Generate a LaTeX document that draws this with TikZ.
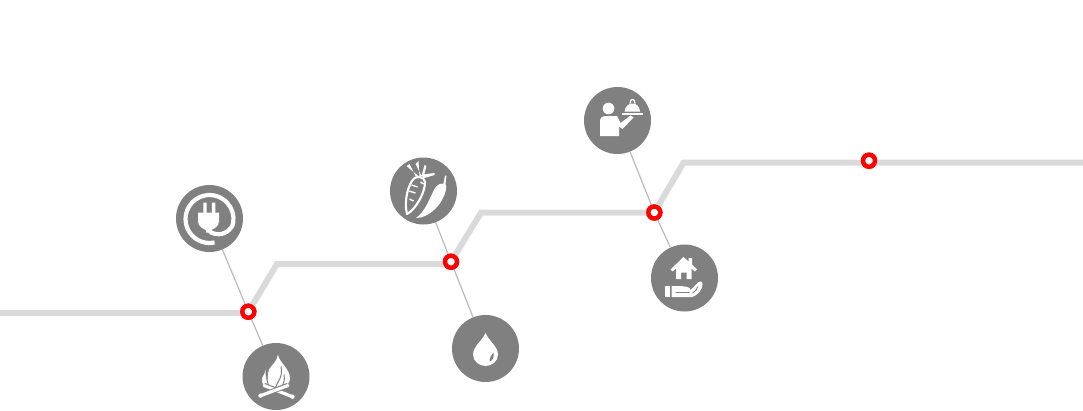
\documentclass[tikz,border=0pt]{standalone}
\usepackage{xcolor}
\usetikzlibrary{positioning,calc}
\definecolor{icongray}{HTML}{808080}
\definecolor{trackgray}{HTML}{DADADA}
\definecolor{linkgray}{HTML}{BBBBBB}
\tikzset{
    plugicon/.pic={
        \draw[white,line width=4.2] (5,24) arc[start angle=78,end angle=368,radius=24]
            .. controls (23,11) and (14,17) .. (7,15.5) .. controls (3,15) and (0,14) .. (-1,11);
        \fill[white] (-6.2,-16) rectangle (-2.8,-4) (2.4,-16) rectangle (5.8,-4);
        \fill[white] (-11.5,-6) -- (9.5,-6) -- (9.5,3) .. controls (9.5,8) and (4,10.5) .. (1.5,11.5)
            -- (1.5,14) -- (-3.5,14) -- (-3.5,11.5) .. controls (-6,10.5) and (-11.5,8) .. (-11.5,3) -- cycle;
    },
    fireicon/.pic={
        \fill[white] (2,-22) .. controls (3,-14) and (14,-8) .. (14,2)
            .. controls (14,7) and (10,10) .. (5,12) -- (-3,14) .. controls (-9,11) and (-10,1) .. (-7,-7)
            .. controls (-4,-12) and (1,-15) .. (2,-22) -- cycle;
        \fill[white] (-10.5,-7) .. controls (-10,-3) and (-15,0) .. (-14,5)
            .. controls (-13.5,9) and (-9,12) .. (-5,13) .. controls (-9,7) and (-11,0) .. (-10.5,-7) -- cycle;
        \draw[icongray,line width=1] (-0.5,11) .. controls (2,4) and (7,1) .. (5,-10);
        \draw[icongray,line width=1] (5,11) .. controls (8,7) and (9,3) .. (8,-2);
        \draw[icongray,line width=1] (-5.5,13) .. controls (-9,8) and (-10,0) .. (-8,-6);
        \draw[icongray,line width=5.4] (-12,9) -- (16,20) (-15,19) -- (12,9);
        \draw[white,line width=3.2,line cap=round] (-12,9) -- (16,20);
        \draw[icongray,line width=5] (-6,15.7) -- (6,11.2);
        \draw[white,line width=3.2,line cap=round] (-15,19) -- (12,9);
        \fill[white] (-15.5,19.2) circle (2.2) (16.5,20.2) circle (2.2);
    },
    carroticon/.pic={
        \draw[white,line width=2.1,line join=round] (-16.5,23) .. controls (-20,10) and (-15,-8) .. (-9,-13)
            .. controls (-6,-15) and (1,-14) .. (1.5,-9) .. controls (2,0) and (-7,18) .. (-16.5,23) -- cycle;
        \draw[white,line width=1.4] (-14,8) -- (-10,10) (-14.5,0) -- (-8,2) (-12,-6) -- (-6,-4) (-3,-9) -- (0,-7);
        \fill[white] (-4,-14) -- (-17,-25) -- (-14,-27) -- (-8,-15) -- cycle (-2,-15) -- (-8,-27) -- (-5,-30) -- (-4,-14) -- cycle
            (-2,-15) -- (1,-26) -- (3,-25) -- (0,-14) -- cycle (-1,-16.5) -- (11,-18) -- (11,-16) -- (-1,-12.5) -- cycle;
        \fill[white] (21.5,-15.5) -- (23,-15.5) -- (22,-7) .. controls (24,-4) and (22,2) .. (19,8)
            .. controls (14,18) and (3,27) .. (-7.5,27) .. controls (1,21) and (5,10) .. (9,2)
            .. controls (11,-3) and (14,-8) .. (20,-7.5) -- cycle;
    },
    dropicon/.pic={
        \fill[white] (0,-15.5) .. controls (3,-8) and (12.5,-2) .. (12.5,6)
            .. controls (12.5,13) and (6,17.5) .. (0,17.5) .. controls (-6,17.5) and (-12.5,13) .. (-12.5,6)
            .. controls (-12.5,-2) and (-3,-8) .. (0,-15.5) -- cycle;
        \fill[icongray] (8,4) .. controls (9,9) and (7,12) .. (4,13) .. controls (4,9) and (6,6) .. (8,4) -- cycle;
    },
    waitericon/.pic={
        \fill[white] (-9,-12) circle (5.8);
        \fill[white] (-17.5,15.5) -- (-17.5,-0.5) .. controls (-17.5,-3) and (-15,-4.5) .. (-12,-4.5)
            -- (-0.5,-4.5) -- (3,2.5) -- (13,-5) -- (16,-3) -- (5,8.5) -- (1.5,6) -- (1.5,15.5) -- cycle;
        \fill[white] (4.5,-8) rectangle (25,-6);
        \fill[white] (7,-9) .. controls (7.5,-14) and (11,-17) .. (15,-17) .. controls (19,-17) and (22,-14) .. (22.5,-9) -- cycle;
        \draw[white,line width=1.3] (12.5,-17) .. controls (12.5,-22.5) and (17.5,-22.5) .. (17.5,-17);
    },
    houseicon/.pic={
        \fill[white] (-1,-21) -- (4,-16.5) -- (4,-20) -- (7.5,-20) -- (7.5,-13.5) -- (12.5,-8.5)
            -- (10,-6.5) -- (7,-9.5) -- (7,1) -- (2,1) -- (2,-5.5) -- (-3.5,-5.5) -- (-3.5,1)
            -- (-8.5,1) -- (-8.5,-9.5) -- (-12,-6.5) -- (-14,-8.5) -- cycle;
        \fill[white] (-20,7.5) rectangle (-14.5,19);
        \fill[white] (-13,8) -- (-3,8) -- (3,9) .. controls (5,9.5) and (6,10.5) .. (6,12)
            -- (14,4) .. controls (16,3) and (18,3) .. (18,6) .. controls (18,12) and (13,17) .. (8,19)
            -- (-13,19) -- cycle;
        \draw[icongray,line width=0.9] (-9,14.5) -- (5,14.5) (13.5,8.5) .. controls (13,11) and (11,13) .. (8,15);
    }
}
\begin{document}
\begin{tikzpicture}[
    x=1pt,y=-1pt,
    iconnode/.style={circle,fill=icongray,minimum size=67,inner sep=0,outer sep=0},
    stopnode/.style={circle,draw=red,fill=white,line width=4.4,minimum size=12,inner sep=0,outer sep=0},
    track/.style={trackgray,line width=6,line join=miter},
    link/.style={linkgray,line width=1.2}
]
\useasboundingbox (0,0) rectangle (1083,410);
\node[stopnode] (stopA) at (248.3,311.7) {};
\node[stopnode] (stopB) at (451,261.7) {};
\node[stopnode] (stopC) at (654.3,212.5) {};
\node[stopnode] (stopD) at (869,160.7) {};

\node[iconnode] (plug) at (209.5,218.5) {};
\node[iconnode] (fire) at (276,376.5) {};
\node[iconnode] (carrot) at (423.5,191) {};
\node[iconnode] (drop) at (485.5,348.5) {};
\node[iconnode] (waiter) at (617.5,120.5) {};
\node[iconnode] (house) at (684.5,278) {};

\coordinate (trackA) at (0,312.7);
\coordinate (cornerA) at (277,264);
\coordinate (trackB) at (451,264);
\coordinate (cornerB) at (481,212.7);
\coordinate (cornerC) at (683.5,162.7);
\coordinate (trackD) at (1083,162.7);

\draw[link] (plug) -- (stopA);
\draw[link] (stopA) -- (fire);
\draw[link] (carrot) -- (stopB);
\draw[link] (stopB) -- (drop);
\draw[link] (waiter) -- (stopC);
\draw[link] (stopC) -- (house);

\draw[track] (trackA) -- (trackA -| stopA);
\draw[track] (stopA) -- (cornerA) -- (trackB);
\draw[track] (stopB) -- (cornerB) -- (cornerB -| stopC);
\draw[track] (stopC) -- (cornerC) -- (trackD);

\node[stopnode] at (stopA) {};
\node[stopnode] at (stopB) {};
\node[stopnode] at (stopC) {};
\node[stopnode] at (stopD) {};

\pic at (plug) {plugicon};
\pic at (fire) {fireicon};
\pic at (carrot) {carroticon};
\pic at (drop) {dropicon};
\pic at (waiter) {waitericon};
\pic at (house) {houseicon};
\end{tikzpicture}
\end{document}
